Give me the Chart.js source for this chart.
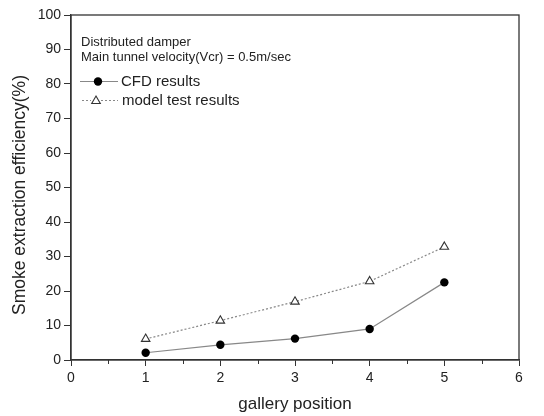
<!DOCTYPE html>
<html><head><meta charset="utf-8">
<script src="https://cdn.jsdelivr.net/npm/chart.js@4/dist/chart.umd.min.js"></script>
<style>html,body{margin:0;padding:0;background:#fff}#wrap{width:544px;height:416px}</style>
</head><body><div id="wrap"><canvas id="c" width="544" height="416"></canvas></div>
<script>
const positions = [1, 2, 3, 4, 5];
const cfdValues = [2.1, 4.4, 6.2, 9.0, 22.5];
const modelValues = [6.1, 11.4, 16.9, 22.8, 32.8];
const xTicks = [0, 1, 2, 3, 4, 5, 6];
const yTicks = [0, 10, 20, 30, 40, 50, 60, 70, 80, 90, 100];
const seriesNames = ['CFD results', 'model test results'];
const noteLines = ['Distributed damper', 'Main tunnel velocity(Vcr) = 0.5m/sec'];
const yTitle = 'Smoke extraction efficiency(%)';
const xTitle = 'gallery position';

const FONT = 'Liberation Sans, Arial, sans-serif';
const AX = '#333';

const framePlugin = {
  id: 'frame',
  afterDraw(chart) {
    const {ctx, chartArea: a, scales: {x, y}} = chart;
    ctx.save();
    ctx.strokeStyle = AX; ctx.lineWidth = 1.3;
    ctx.strokeRect(a.left, a.top, a.right - a.left, a.bottom - a.top);
    // minor x ticks
    ctx.lineWidth = 1;
    for (let v = 0.5; v < 6; v += 1) {
      const px = Math.round(x.getPixelForValue(v)) + 0.5;
      ctx.beginPath(); ctx.moveTo(px, a.bottom); ctx.lineTo(px, a.bottom + 4); ctx.stroke();
    }
    // y title
    ctx.save();
    ctx.translate(20.5, 195);
    ctx.rotate(-Math.PI / 2);
    ctx.font = '17.5px ' + FONT;
    ctx.fillStyle = '#222';
    ctx.textAlign = 'center'; ctx.textBaseline = 'middle';
    ctx.fillText(yTitle, 0, 0);
    ctx.restore();
    // notes
    ctx.fillStyle = '#222';
    ctx.font = '13px ' + FONT;
    ctx.textBaseline = 'middle';
    ctx.fillText(noteLines[0], 81, 42);
    ctx.fillText(noteLines[1], 81, 57);
    // legend
    ctx.font = '15px ' + FONT;
    // row 1
    ctx.strokeStyle = '#888'; ctx.lineWidth = 1.2; ctx.setLineDash([]);
    ctx.beginPath(); ctx.moveTo(80, 81.5); ctx.lineTo(118, 81.5); ctx.stroke();
    ctx.fillStyle = '#000';
    ctx.beginPath(); ctx.arc(98, 81.5, 4.2, 0, Math.PI * 2); ctx.fill();
    ctx.fillStyle = '#222';
    ctx.fillText(seriesNames[0], 121, 82);
    // row 2
    ctx.strokeStyle = '#888'; ctx.setLineDash([2, 2]);
    ctx.beginPath(); ctx.moveTo(82, 100.5); ctx.lineTo(91, 100.5); ctx.moveTo(101, 100.5); ctx.lineTo(118, 100.5); ctx.stroke();
    ctx.setLineDash([]);
    ctx.strokeStyle = '#333'; ctx.lineWidth = 1.1; ctx.fillStyle = '#fff';
    ctx.beginPath(); ctx.moveTo(96, 96); ctx.lineTo(100.3, 103.5); ctx.lineTo(91.7, 103.5); ctx.closePath(); ctx.fill(); ctx.stroke();
    ctx.fillStyle = '#222';
    ctx.fillText(seriesNames[1], 122, 101);
    ctx.restore();
  }
};

new Chart(document.getElementById('c'), {
  type: 'scatter',
  data: {
    datasets: [
      {
        label: seriesNames[1],
        data: positions.map((p, i) => ({x: p, y: modelValues[i]})),
        showLine: true,
        borderColor: '#888', borderWidth: 1.2, borderDash: [2, 2],
        pointStyle: 'triangle', pointRadius: 4.9, pointBorderWidth: 1.1,
        pointBorderColor: '#333', pointBackgroundColor: '#fff'
      },
      {
        label: seriesNames[0],
        data: positions.map((p, i) => ({x: p, y: cfdValues[i]})),
        showLine: true,
        borderColor: '#888', borderWidth: 1.2,
        pointStyle: 'circle', pointRadius: 4.2, pointBorderWidth: 0,
        pointBackgroundColor: '#000'
      }
    ]
  },
  options: {
    responsive: false, animation: false,
    layout: {padding: {top: 15, right: 25, left: 0, bottom: 0}},
    plugins: {legend: {display: false}, tooltip: {enabled: false}},
    scales: {
      x: {
        type: 'linear', min: 0, max: 6,
        afterBuildTicks: s => { s.ticks = xTicks.map(v => ({value: v})); },
        afterFit: s => { s.height = 56; },
        ticks: {color: '#222', font: {family: FONT, size: 14}, padding: 4, maxRotation: 0},
        grid: {drawOnChartArea: false, tickLength: 6, tickColor: AX, tickWidth: 1},
        border: {color: AX, width: 1.3},
        title: {display: true, text: xTitle, color: '#222', font: {family: FONT, size: 17}, padding: {top: 4, bottom: 1}}
      },
      y: {
        type: 'linear', min: 0, max: 100,
        afterBuildTicks: s => { s.ticks = yTicks.map(v => ({value: v})); },
        afterFit: s => { s.width = 71; },
        ticks: {color: '#222', font: {family: FONT, size: 14}, padding: 3},
        grid: {drawOnChartArea: false, tickLength: 7, tickColor: AX, tickWidth: 1},
        border: {color: AX, width: 1.3},
        title: {display: false}
      }
    }
  },
  plugins: [framePlugin]
});
</script></body></html>
